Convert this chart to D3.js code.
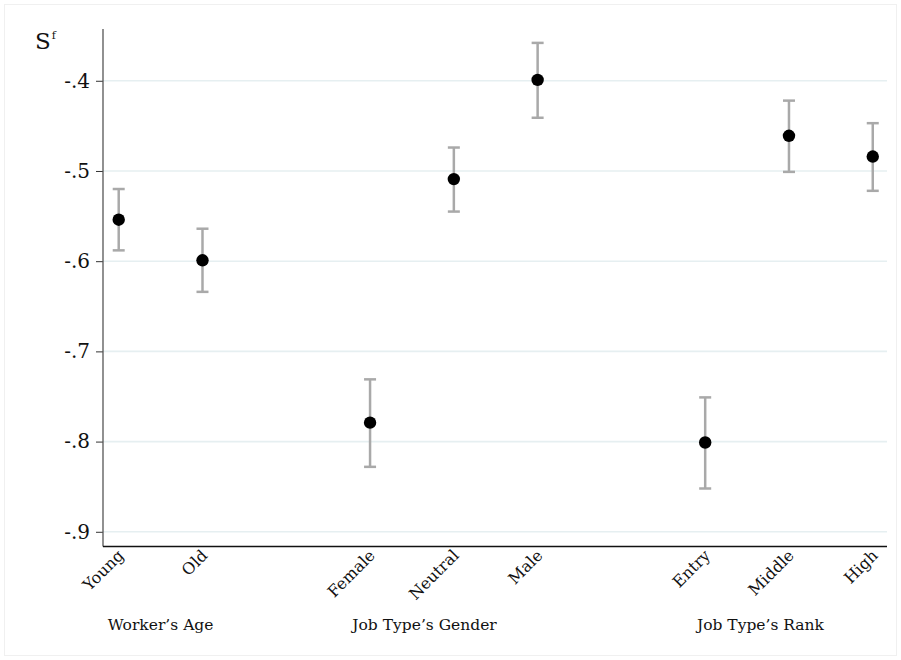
<!DOCTYPE html>
<html>
<head>
<meta charset="utf-8">
<script src="https://cdn.jsdelivr.net/npm/d3@7"></script>
<style>
  html, body { margin: 0; padding: 0; background: #fff; }
  svg { display: block; font-family: "DejaVu Serif", "Liberation Serif", serif; }
</style>
</head>
<body>
<svg id="chart" width="901" height="660"></svg>
<script>
// Point estimates with 95% confidence intervals, grouped by dimension
const categories = ["Young", "Old", "Female", "Neutral", "Male", "Entry", "Middle", "High"];
const positions  = [1, 2, 4, 5, 6, 8, 9, 10];
const estimates  = [-0.554, -0.599, -0.779, -0.509, -0.399, -0.801, -0.461, -0.484];
const ciLower    = [-0.588, -0.634, -0.828, -0.545, -0.441, -0.852, -0.501, -0.522];
const ciUpper    = [-0.520, -0.564, -0.731, -0.474, -0.358, -0.751, -0.422, -0.447];
const groupLabels    = ["Worker\u2019s Age", "Job Type\u2019s Gender", "Job Type\u2019s Rank"];
const groupPositions = [1.5, 4.65, 8.66];
const yTicks = [-0.4, -0.5, -0.6, -0.7, -0.8, -0.9];

const svg = d3.select("#chart");
const W = 901, H = 660;

// faint outer frame
svg.append("rect")
  .attr("x", 4.5).attr("y", 4.5)
  .attr("width", W - 9).attr("height", H - 9)
  .attr("fill", "none").attr("stroke", "#f0f0f0").attr("stroke-width", 1);

const plotLeft = 103, plotRight = 887, plotTop = 29, plotBottom = 546.5;

const x = d3.scaleLinear().domain([0.8125, 10.17]).range([plotLeft, plotRight]);
const y = d3.scaleLinear().domain([-0.9163, -0.3426]).range([plotBottom, plotTop]);

// horizontal gridlines
svg.append("g").selectAll("line")
  .data(yTicks).join("line")
  .attr("x1", plotLeft).attr("x2", plotRight)
  .attr("y1", d => y(d)).attr("y2", d => y(d))
  .attr("stroke", "#e6eff1").attr("stroke-width", 1.6);

// y axis: "-.4" style labels with a plain hyphen
const fmt = d => "-" + d3.format(".1f")(Math.abs(d)).replace(/^0/, "");
const yAxis = d3.axisLeft(y).tickValues(yTicks).tickFormat(fmt).tickSize(7).tickPadding(6);
const gy = svg.append("g").attr("transform", `translate(${plotLeft},0)`).call(yAxis);
gy.select(".domain").remove();
gy.selectAll(".tick line").attr("stroke", "#333").attr("stroke-width", 1);
gy.selectAll(".tick text")
  .attr("font-family", "DejaVu Serif, serif")
  .attr("font-size", 20).attr("fill", "#111");
svg.append("line")
  .attr("x1", plotLeft).attr("x2", plotLeft).attr("y1", plotTop).attr("y2", plotBottom)
  .attr("stroke", "#555").attr("stroke-width", 1.3);

// x axis baseline with rotated category labels
svg.append("line")
  .attr("x1", plotLeft).attr("x2", plotRight).attr("y1", plotBottom).attr("y2", plotBottom)
  .attr("stroke", "#111").attr("stroke-width", 1.3);

svg.append("g").selectAll("text")
  .data(categories).join("text")
  .attr("transform", (d, i) => `translate(${x(positions[i]) + 6},${plotBottom + 10}) rotate(-45)`)
  .attr("text-anchor", "end")
  .attr("font-size", 16).attr("fill", "#111")
  .text(d => d);

// group labels
svg.append("g").selectAll("text")
  .data(groupLabels).join("text")
  .attr("x", (d, i) => x(groupPositions[i]))
  .attr("y", 630)
  .attr("text-anchor", "middle")
  .attr("font-size", 15.5).attr("fill", "#111")
  .text(d => d);

// y axis title S^f
const title = svg.append("text").attr("x", 35).attr("y", 49)
  .attr("font-size", 23).attr("fill", "#111");
title.append("tspan").text("S");
title.append("tspan").attr("font-size", 11).attr("dy", -10).attr("dx", 1).text("f");

// confidence intervals
const ci = svg.append("g").attr("stroke", "#a9a9a9").attr("stroke-width", 2.5);
const idx = d3.range(categories.length);
ci.selectAll("line.v").data(idx).join("line").attr("class", "v")
  .attr("x1", i => x(positions[i])).attr("x2", i => x(positions[i]))
  .attr("y1", i => y(ciLower[i])).attr("y2", i => y(ciUpper[i]));
ci.selectAll("line.lo").data(idx).join("line").attr("class", "lo")
  .attr("x1", i => x(positions[i]) - 6).attr("x2", i => x(positions[i]) + 6)
  .attr("y1", i => y(ciLower[i])).attr("y2", i => y(ciLower[i]));
ci.selectAll("line.hi").data(idx).join("line").attr("class", "hi")
  .attr("x1", i => x(positions[i]) - 6).attr("x2", i => x(positions[i]) + 6)
  .attr("y1", i => y(ciUpper[i])).attr("y2", i => y(ciUpper[i]));

// point estimates
svg.append("g").selectAll("circle")
  .data(idx).join("circle")
  .attr("cx", i => x(positions[i]))
  .attr("cy", i => y(estimates[i]))
  .attr("r", 6.2)
  .attr("fill", "#000");
</script>
</body>
</html>
